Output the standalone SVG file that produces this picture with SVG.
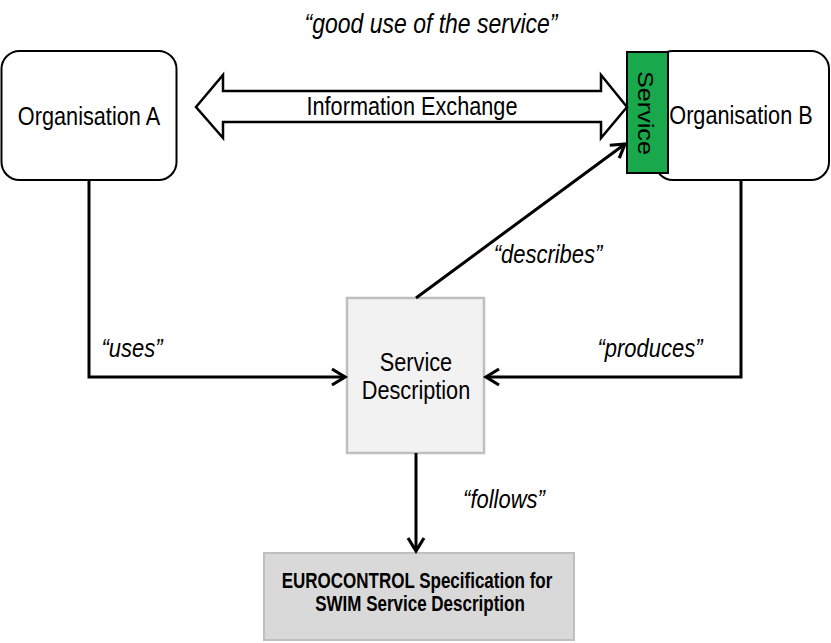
<svg xmlns="http://www.w3.org/2000/svg" width="831" height="643" viewBox="0 0 831 643">
<style>
  text { font-family: "Liberation Sans", Arial, sans-serif; fill: #000; }
  .lbl { font-size: 21.7px; text-anchor: middle; }
  .it { font-size: 22px; font-style: italic; text-anchor: middle; }
  .title { font-size: 23px; font-style: italic; text-anchor: middle; }
  .bold { font-size: 17px; font-weight: bold; text-anchor: middle; }
  .org { fill: #fff; stroke: #000; stroke-width: 2; }
  .conn { fill: none; stroke: #000; stroke-width: 3; }
</style>
<defs>
  <marker id="chev" markerUnits="userSpaceOnUse" markerWidth="24" markerHeight="24" viewBox="-16 -12 20 24" refX="0" refY="0" orient="auto">
    <path d="M-13,-8 L0,0 L-13,8" fill="none" stroke="#000" stroke-width="3.2"/>
  </marker>
</defs>
<rect width="831" height="643" fill="#fff"/>

<text class="title" transform="translate(431,33) scale(1,1.18)">“good use of the service”</text>

<g id="orgA">
  <rect class="org" x="1.5" y="51" width="175" height="129" rx="18"/>
  <text class="lbl" transform="translate(89,125) scale(1,1.2)">Organisation A</text>
</g>

<g id="orgB">
  <rect class="org" x="655" y="51" width="174" height="129" rx="18"/>
  <text class="lbl" transform="translate(741,124) scale(1,1.2)">Organisation B</text>
</g>

<g id="service">
  <rect x="627" y="52" width="41" height="121" fill="#1aa84c" stroke="#000" stroke-width="2"/>
  <text class="lbl" transform="translate(638,113) rotate(90) scale(1.16,1)">Service</text>
</g>

<g id="infoExchange">
  <polygon points="196,107 223,75 223,91 601,91 601,75 627,107 601,138 601,122 223,122 223,138" fill="#fff" stroke="#000" stroke-width="2.5" stroke-linejoin="miter"/>
  <text class="lbl" transform="translate(412,115) scale(1,1.18)">Information Exchange</text>
</g>

<g id="serviceDescription">
  <rect x="347" y="298" width="137" height="155" fill="#f2f2f2" stroke="#bfbfbf" stroke-width="2.5"/>
  <text class="lbl" transform="translate(416,371) scale(1,1.18)">Service</text>
  <text class="lbl" transform="translate(416,399) scale(1,1.18)">Description</text>
</g>

<g id="eurocontrol">
  <rect x="264" y="553" width="310" height="87" fill="#d9d9d9" stroke="#bfbfbf" stroke-width="2"/>
  <text class="bold" transform="translate(417,588) scale(1,1.28)">EUROCONTROL Specification for</text>
  <text class="bold" transform="translate(420,611) scale(1,1.28)">SWIM Service Description</text>
</g>

<g id="connectors">
  <path class="conn" d="M89,180 V377 H345" marker-end="url(#chev)"/>
  <path class="conn" d="M741,180 V377 H486" marker-end="url(#chev)"/>
  <path class="conn" d="M416,298 L625,144" marker-end="url(#chev)"/>
  <path class="conn" d="M416,453 V551" marker-end="url(#chev)"/>
</g>

<g id="labels">
  <text class="it" transform="translate(132,357) scale(1,1.18)">“uses”</text>
  <text class="it" transform="translate(650,357) scale(1,1.18)">“produces”</text>
  <text class="it" transform="translate(548,263) scale(1,1.18)">“describes”</text>
  <text class="it" transform="translate(504,508) scale(1,1.18)">“follows”</text>
</g>
</svg>
